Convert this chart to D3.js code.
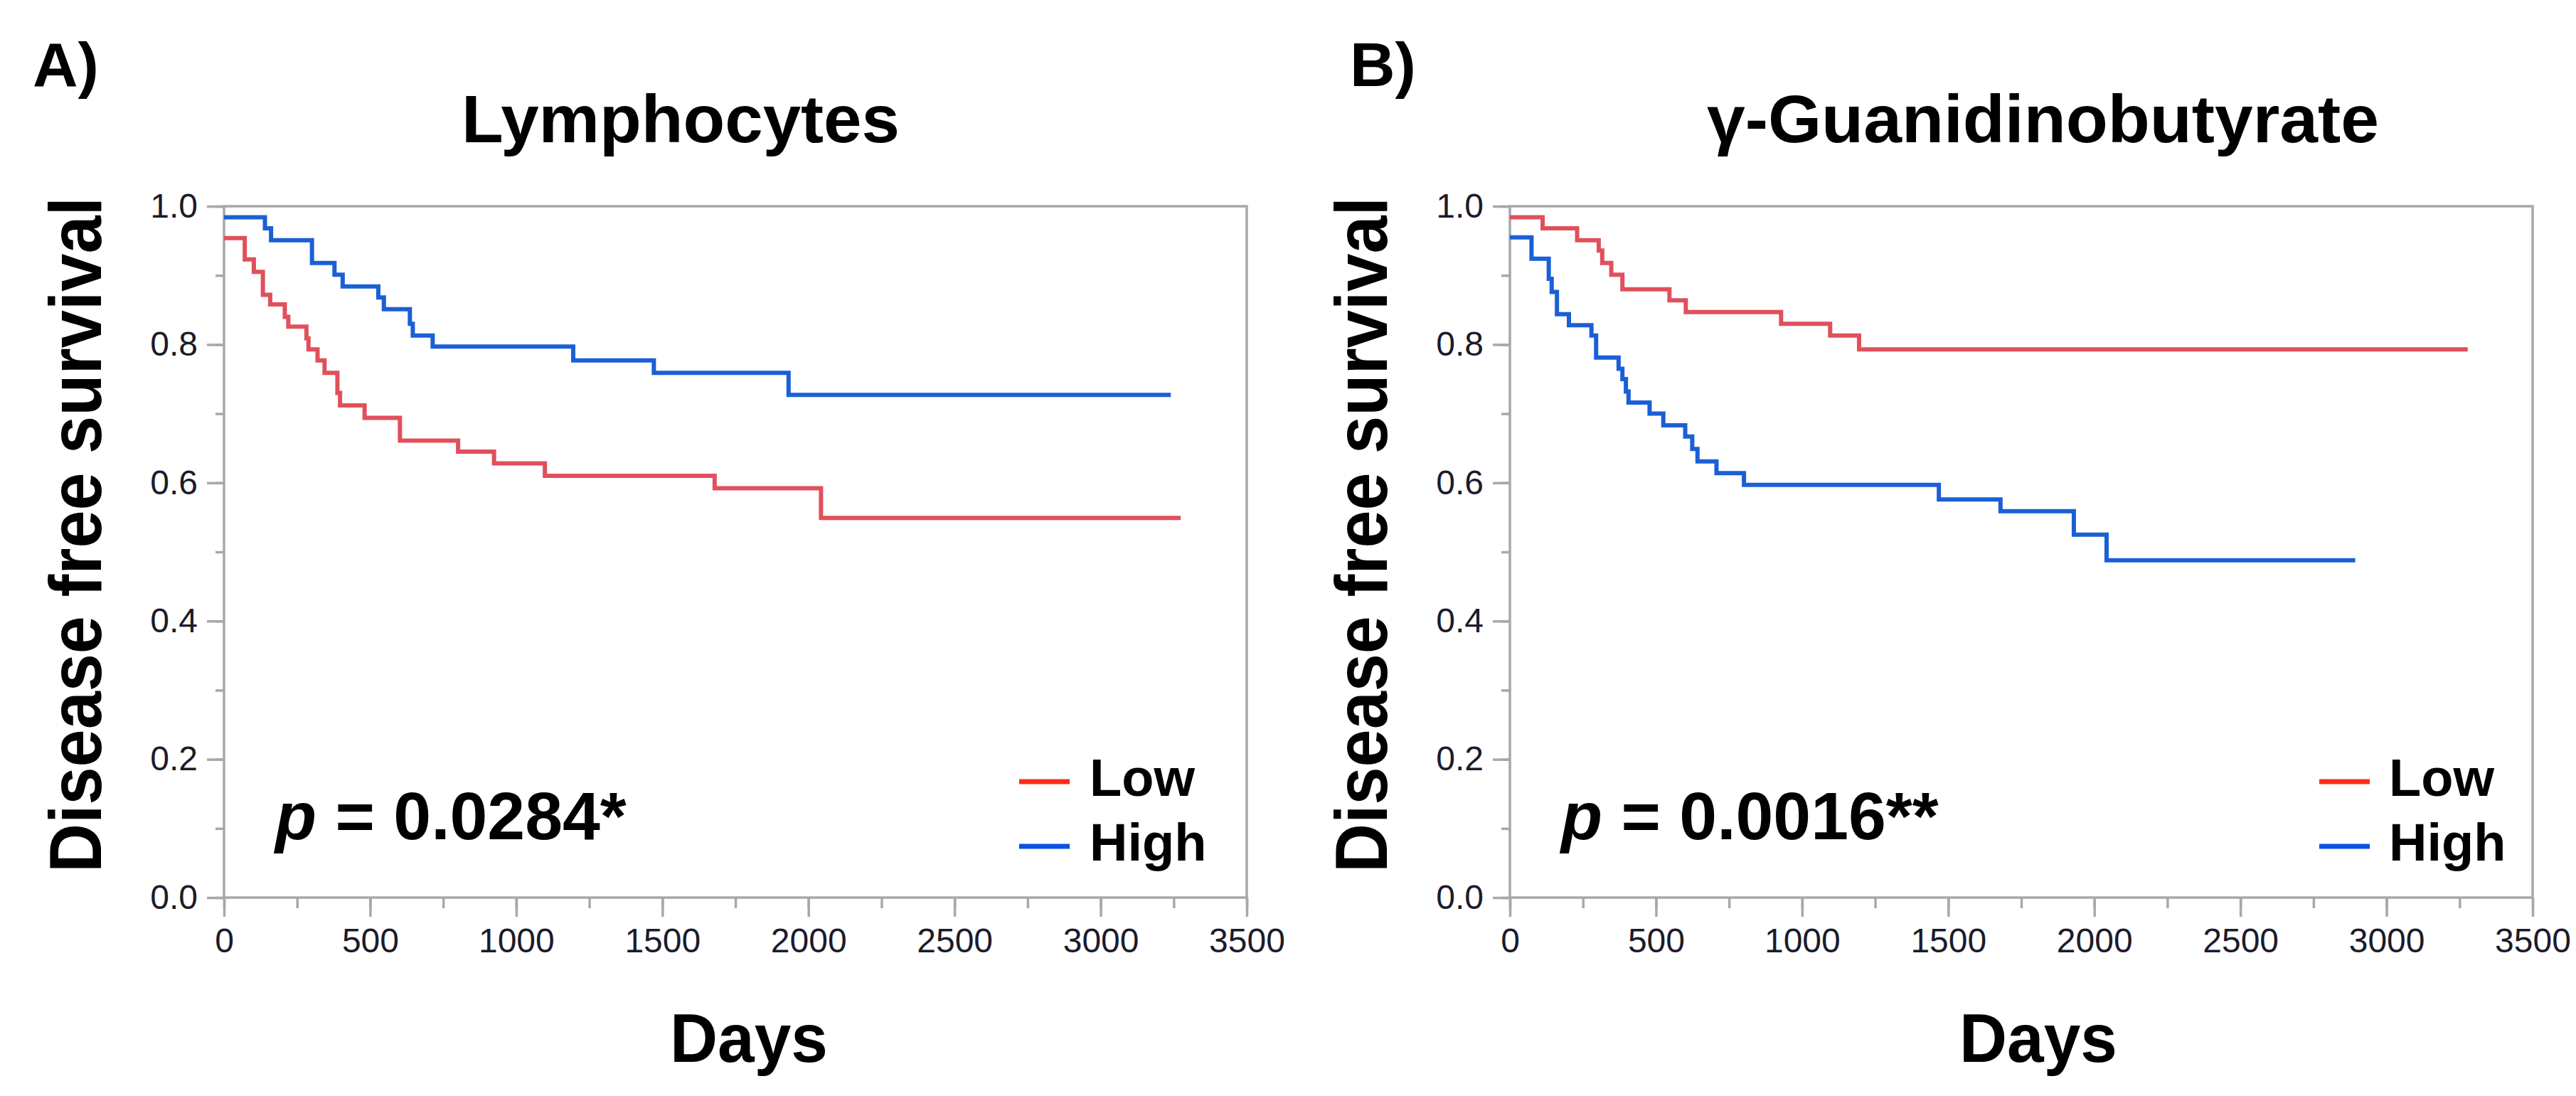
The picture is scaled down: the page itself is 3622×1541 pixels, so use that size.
<!DOCTYPE html>
<html>
<head>
<meta charset="utf-8">
<script src="https://cdn.jsdelivr.net/npm/d3@7"></script>
<style>
body { margin: 0; background: #fff; }
text { font-family: "Liberation Sans", Arial, sans-serif; }
</style>
</head>
<body>
<script>
// ticks and labels
const dayTicks = [0, 500, 1000, 1500, 2000, 2500, 3000, 3500]
const dayMinorTicks = [0, 250, 500, 750, 1000, 1250, 1500, 1750, 2000, 2250, 2500, 2750, 3000, 3250, 3500]
const survTicks = [0, 0.2, 0.4, 0.6, 0.8, 1.0]
const survMinorTicks = [0, 0.1, 0.2, 0.3, 0.4, 0.5, 0.6, 0.7, 0.8, 0.9, 1.0]
const groupNames = ["Low", "High"]
const panelTitles = ["Lymphocytes", "γ-Guanidinobutyrate"]
const panelLetters = ["A)", "B)"]
const pValues = ["0.0284*", "0.0016**"]

// A) Lymphocytes - Low
const aLowDays = [0, 71, 102, 133, 158, 208, 220, 282, 289, 320, 344, 388, 397, 481, 602, 801, 924, 1098, 1679, 2043, 3274]
const aLowSurv = [0.954, 0.923, 0.905, 0.872, 0.858, 0.840, 0.826, 0.809, 0.793, 0.777, 0.759, 0.730, 0.712, 0.694, 0.661, 0.645, 0.628, 0.610, 0.592, 0.549, 0.549]
// A) Lymphocytes - High
const aHighDays = [0, 140, 161, 301, 378, 406, 528, 547, 636, 646, 714, 1195, 1471, 1932, 3240]
const aHighSurv = [0.984, 0.968, 0.951, 0.918, 0.901, 0.884, 0.868, 0.851, 0.830, 0.813, 0.797, 0.777, 0.759, 0.727, 0.727]

// B) gamma-Guanidinobutyrate - Low
const bLowDays = [0, 112, 230, 304, 316, 347, 385, 546, 602, 928, 1096, 1195, 3278]
const bLowSurv = [0.984, 0.968, 0.951, 0.936, 0.918, 0.901, 0.880, 0.864, 0.847, 0.830, 0.813, 0.793, 0.793]
// B) gamma-Guanidinobutyrate - High
const bHighDays = [0, 74, 133, 143, 161, 202, 279, 295, 372, 385, 397, 406, 478, 525, 600, 624, 642, 707, 801, 1468, 1679, 1930, 2042, 2893]
const bHighSurv = [0.955, 0.924, 0.895, 0.876, 0.844, 0.828, 0.813, 0.781, 0.765, 0.750, 0.732, 0.716, 0.700, 0.683, 0.667, 0.649, 0.631, 0.614, 0.597, 0.576, 0.559, 0.525, 0.488, 0.488]

const W = 3622, H = 1541
const plotW = 1438, plotH = 972, plotTop = 290
const axisGray = "#a8a8a8"
const lineColors = ["#e0505c", "#1b5fd6"]
const legendColors = ["#ff2b1c", "#0a52e0"]

const panels = [
    { left: 315, letterX: 46, titleX: 649, titleLen: 616, labelX: 142, daysX: 942, legLine: 1118, legText: 1217,
      low: [aLowDays, aLowSurv], high: [aHighDays, aHighSurv] },
    { left: 2123, letterX: 1898, titleX: 2400, titleLen: 945, labelX: 1950, daysX: 2755, legLine: 1138, legText: 1236,
      low: [bLowDays, bLowSurv], high: [bHighDays, bHighSurv] }
]

const svg = d3.select("body")
    .append("svg")
    .attr("width", W)
    .attr("height", H)

const x = d3.scaleLinear().domain([0, 3500]).range([0, plotW])
const y = d3.scaleLinear().domain([0, 1]).range([plotH, 0])

function styleAxis(ax) {
    ax.select(".domain").remove()
    ax.selectAll(".tick line").attr("stroke", axisGray).attr("stroke-width", 3.5)
    ax.selectAll("text")
        .attr("font-size", 48)
        .attr("font-family", "'Liberation Sans', Arial, sans-serif")
        .attr("fill", "#1b1b2b")
}

panels.forEach((p, i) => {
    // panel letter and title
    svg.append("text")
        .attr("x", p.letterX).attr("y", 121)
        .attr("font-size", 88).attr("font-weight", "bold")
        .text(panelLetters[i])

    svg.append("text")
        .attr("x", p.titleX).attr("y", 200)
        .attr("font-size", 94).attr("font-weight", "bold")
        .attr("textLength", p.titleLen).attr("lengthAdjust", "spacingAndGlyphs")
        .text(panelTitles[i])

    // y label
    svg.append("text")
        .attr("transform", "translate(" + p.labelX + ",752) rotate(-90)")
        .attr("text-anchor", "middle")
        .attr("font-size", 104).attr("font-weight", "bold")
        .attr("textLength", 950).attr("lengthAdjust", "spacingAndGlyphs")
        .text("Disease free survival")

    // x label
    svg.append("text")
        .attr("x", p.daysX).attr("y", 1493)
        .attr("font-size", 97).attr("font-weight", "bold")
        .attr("textLength", 222).attr("lengthAdjust", "spacingAndGlyphs")
        .text("Days")

    const g = svg.append("g").attr("transform", "translate(" + p.left + "," + plotTop + ")")

    // axes: minor then major ticks
    g.append("g").attr("transform", "translate(0," + plotH + ")")
        .call(d3.axisBottom(x).tickValues(dayMinorTicks).tickSize(15).tickFormat(""))
        .call(styleAxis)
    g.append("g").attr("transform", "translate(0," + plotH + ")")
        .call(d3.axisBottom(x).tickValues(dayTicks).tickSize(27).tickPadding(16).tickFormat(d3.format("d")))
        .call(styleAxis)
    g.append("g")
        .call(d3.axisLeft(y).tickValues(survMinorTicks).tickSize(12).tickFormat(""))
        .call(styleAxis)
    g.append("g")
        .call(d3.axisLeft(y).tickValues(survTicks).tickSize(24).tickPadding(13).tickFormat(d3.format(".1f")))
        .call(styleAxis)

    // frame
    g.append("rect")
        .attr("width", plotW).attr("height", plotH)
        .attr("fill", "none")
        .attr("stroke", axisGray).attr("stroke-width", 3.5)

    // survival curves
    const line = d3.line()
        .x(d => x(d[0]))
        .y(d => y(d[1]))
        .curve(d3.curveStepAfter)

    const series = [p.low, p.high]
    series.forEach((s, k) => {
        const pts = s[0].map((d, j) => [d, s[1][j]])
        g.append("path")
            .datum(pts)
            .attr("d", line)
            .attr("fill", "none")
            .attr("stroke", lineColors[k])
            .attr("stroke-width", 6)
    })

    // p value
    const pt = g.append("text")
        .attr("x", 72).attr("y", 890)
        .attr("font-size", 95).attr("font-weight", "bold")
    pt.append("tspan").attr("font-style", "italic").text("p")
    pt.append("tspan").text(" = " + pValues[i])

    // legend
    groupNames.forEach((name, k) => {
        const ly = 809 + k * 91
        g.append("line")
            .attr("x1", p.legLine).attr("x2", p.legLine + 71)
            .attr("y1", ly).attr("y2", ly)
            .attr("stroke", legendColors[k]).attr("stroke-width", 7)
        g.append("text")
            .attr("x", p.legText).attr("y", ly + 20)
            .attr("font-size", 74).attr("font-weight", "bold")
            .text(name)
    })
})
</script>
</body>
</html>
